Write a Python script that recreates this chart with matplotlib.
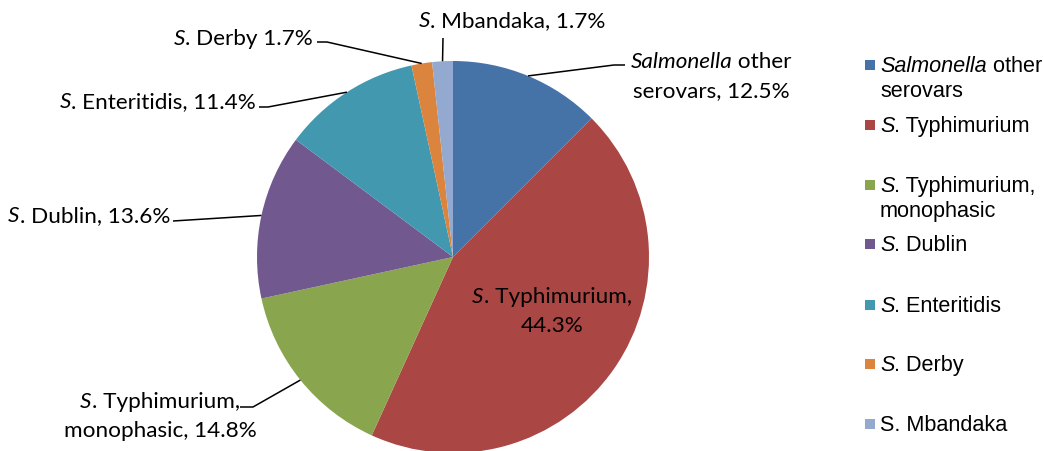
import matplotlib
matplotlib.use("Agg")
import matplotlib.pyplot as plt
from matplotlib.patches import Rectangle
import numpy as np

# serovar shares (%)
categories = ["Salmonella other serovars", "S. Typhimurium", "S. Typhimurium, monophasic",
              "S. Dublin", "S. Enteritidis", "S. Derby", "S. Mbandaka"]
shares = [12.5, 44.3, 14.8, 13.6, 11.4, 1.7, 1.7]
colors = ["#4572A7", "#AA4643", "#89A54E", "#71588F", "#4198AF", "#DB843D", "#93A9CF"]

# label text per slice, {v} is replaced by the share
pie_text = [
    ["Salmonella other", "serovars, {v}"],
    ["S. Typhimurium,", "{v}"],
    ["S. Typhimurium,", "monophasic, {v}"],
    ["S. Dublin, {v}"],
    ["S. Enteritidis, {v}"],
    ["S. Derby {v}"],
    ["S. Mbandaka, {v}"],
]
legend_text = [["Salmonella other", "serovars"], ["S. Typhimurium"],
               ["S. Typhimurium,", "monophasic"], ["S. Dublin"], ["S. Enteritidis"],
               ["S. Derby"], ["S. Mbandaka"]]
legend_italic = [True, True, True, True, True, True, False]

W, H = 1043, 452
fig = plt.figure(figsize=(W / 100, H / 100), dpi=100)
ax = fig.add_axes([0, 0, 1, 1])

cx, cy, R = 453, H - 258, 196
ax.pie(shares, colors=colors, startangle=90, counterclock=False,
       center=(cx, cy), radius=R, wedgeprops=dict(linewidth=0))
ax.set_xlim(0, W)
ax.set_ylim(0, H)
ax.set_aspect("auto")
ax.axis("off")

renderer = fig.canvas.get_renderer()
LBL_FONT = "Lato"
LBL_SIZE = 16.2
LEG_FONT = "Liberation Sans"
LEG_SIZE = 15.6


def split_italic(s, italic=True):
    if italic and s.startswith("Salmonella"):
        return [("Salmonella", "italic"), (s[len("Salmonella"):], "normal")]
    if italic and s.startswith("S."):
        return [("S", "italic"), (s[1:], "normal")]
    return [(s, "normal")]


def rich_line(x, y, parts, ha, family, size):
    texts = [ax.text(0, y, s, style=st, family=family, fontsize=size,
                     va="baseline", ha="left", color="black") for s, st in parts]
    widths = [t.get_window_extent(renderer).width for t in texts]
    total = sum(widths)
    x0 = {"left": x, "center": x - total / 2, "right": x - total}[ha]
    for t, w in zip(texts, widths):
        t.set_x(x0)
        x0 += w


# label anchors (x, first baseline, ha) and leader-line bends, image pixel coords
label_pos = [(711, 68, "center"), (552, 303, "center"), (160, 408, "center"),
             (170, 222, "right"), (256, 108, "right"), (313, 45, "right"), (512, 27, "center")]
leader_pts = [[(614, 66), (625, 66)], None, [(253, 408), (240, 408)], [(173, 222)],
              [(268, 108), (259, 108)], [(327, 43), (317, 43)], [(443, 39)]]
line_gap = 29

cum = np.cumsum([0] + shares[:-1])
for i, v in enumerate(shares):
    x, y, ha = label_pos[i]
    for k, line in enumerate(pie_text[i]):
        rich_line(x, H - (y + k * line_gap), split_italic(line.format(v=f"{v:.1f}%")),
                  ha, LBL_FONT, LBL_SIZE)
    if leader_pts[i]:
        ang = np.deg2rad(90 - 360 * (cum[i] + v / 2) / 100)
        px = [cx + R * np.cos(ang)] + [p[0] for p in leader_pts[i]]
        py = [cy + R * np.sin(ang)] + [H - p[1] for p in leader_pts[i]]
        ax.plot(px, py, color="black", lw=1.1, solid_capstyle="butt")

# legend
leg_y = [66, 126, 186, 245, 306, 365, 425]
for i, c in enumerate(colors):
    y = leg_y[i]
    ax.add_patch(Rectangle((865, H - y - 5), 10, 10, color=c, lw=0))
    for k, line in enumerate(legend_text[i]):
        rich_line(880, H - (y + 6 + k * 25), split_italic(line, legend_italic[i]),
                  "left", LEG_FONT, LEG_SIZE)

fig.savefig("out.png", dpi=100)
